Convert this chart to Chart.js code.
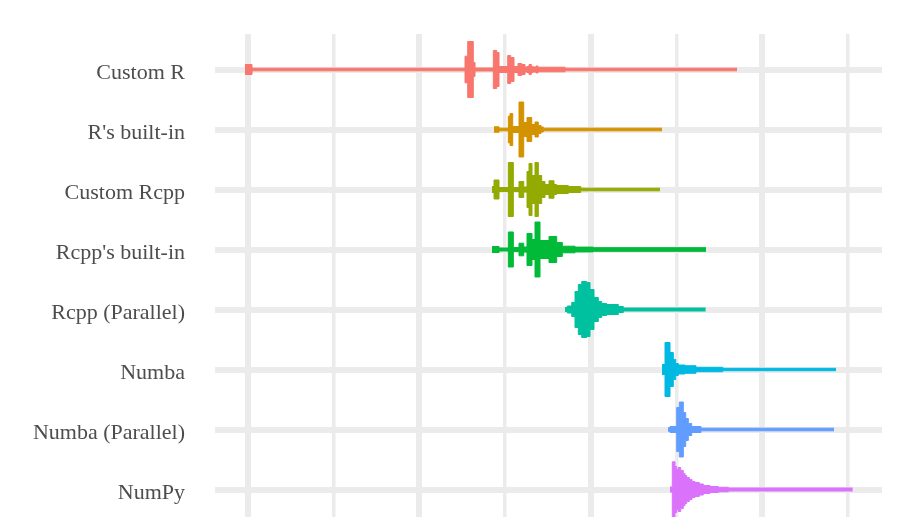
<!DOCTYPE html>
<html>
<head>
<meta charset="utf-8">
<script src="https://cdn.jsdelivr.net/npm/chart.js@4/dist/chart.umd.min.js"></script>
<style>
  html, body { margin: 0; padding: 0; background: #ffffff; overflow: hidden; }
  canvas { display: block; }
</style>
</head>
<body>
<canvas id="c" width="918" height="517" style="width:918px;height:517px"></canvas>
<script>
// Categories (top to bottom) and colours
const categories = ["Custom R", "R's built-in", "Custom Rcpp", "Rcpp's built-in", "Rcpp (Parallel)", "Numba", "Numba (Parallel)", "NumPy"];
const colors = ["#F8766D", "#D39200", "#93AA00", "#00BA38", "#00C19F", "#00B9E3", "#619CFF", "#DB72FB"];

// Violin outlines: x positions (value axis) and half-widths (category units)
const customR_x = [-0.0175, 0.0234, 1.2668, 1.2825, 1.3152, 1.3252, 1.4320, 1.4518, 1.4653, 1.5161, 1.5336, 1.5528, 1.5762, 1.5978, 1.6170, 1.6287, 1.6404, 1.6538, 1.6637, 1.6813, 1.6929, 1.8506, 2.8546];
const customR_w = [0.083, 0.022, 0.222, 0.467, 0.117, 0.025, 0.317, 0.283, 0.05, 0.233, 0.2, 0.05, 0.1, 0.083, 0.04, 0.05, 0.083, 0.05, 0.042, 0.058, 0.038, 0.022, 0.022];

const rBuiltin_x = [1.4361, 1.4653, 1.5196, 1.5295, 1.5452, 1.5820, 1.6095, 1.6287, 1.6562, 1.6754, 1.6947, 1.7105, 1.7239, 2.4168];
const rBuiltin_w = [0.045, 0.022, 0.222, 0.267, 0.05, 0.458, 0.117, 0.2, 0.083, 0.125, 0.067, 0.042, 0.022, 0.022];

const customRcpp_x = [1.4244, 1.4361, 1.4653, 1.5196, 1.5488, 1.5820, 1.6095, 1.6287, 1.6404, 1.6579, 1.6754, 1.6947, 1.7145, 1.7338, 1.7572, 1.7863, 1.8021, 1.8698, 1.9422, 2.4051];
const customRcpp_w = [0.05, 0.158, 0.033, 0.45, 0.033, 0.133, 0.042, 0.3, 0.433, 0.233, 0.45, 0.233, 0.133, 0.083, 0.145, 0.083, 0.067, 0.05, 0.022, 0.022];

const rcppBuiltin_x = [1.4244, 1.4653, 1.5196, 1.5488, 1.5820, 1.6095, 1.6287, 1.6579, 1.6754, 1.7046, 1.7572, 1.8021, 1.8348, 1.9089, 2.0158, 2.6737];
const rcppBuiltin_w = [0.05, 0.025, 0.292, 0.033, 0.105, 0.042, 0.267, 0.167, 0.458, 0.15, 0.217, 0.117, 0.055, 0.04, 0.03, 0.03];

const rcppPar_x = [1.8506, 1.8640, 1.8897, 1.9089, 1.9282, 1.9481, 1.9772, 1.9965, 2.0198, 2.0450, 2.0648, 2.0940, 2.1617, 2.1909, 2.6719];
const rcppPar_w = [0.033, 0.058, 0.117, 0.3, 0.417, 0.467, 0.45, 0.333, 0.2, 0.133, 0.1, 0.083, 0.05, 0.025, 0.025];

const numba_x = [2.4168, 2.4343, 2.4635, 2.4828, 2.4968, 2.5120, 2.5511, 2.6153, 2.7712, 3.4326];
const numba_w = [0.083, 0.45, 0.283, 0.167, 0.1, 0.075, 0.063, 0.037, 0.02, 0.02];

const numbaPar_x = [2.4518, 2.4635, 2.5026, 2.5178, 2.5412, 2.5552, 2.5704, 2.5902, 2.6445, 3.4209];
const numbaPar_w = [0.028, 0.05, 0.367, 0.458, 0.283, 0.183, 0.1, 0.05, 0.022, 0.022];

const numpy_x = [2.4635, 2.4769, 2.4927, 2.5026, 2.5120, 2.5260, 2.5412, 2.5511, 2.5610, 2.5762, 2.5919, 2.6095, 2.6346, 2.6579, 2.6970, 2.7455, 2.8039, 3.5301];
const numpy_w = [0.042, 0.462, 0.383, 0.333, 0.367, 0.317, 0.267, 0.233, 0.2, 0.167, 0.133, 0.117, 0.092, 0.067, 0.05, 0.038, 0.025, 0.025];

// Gridline tick values
const xMajorTicks = [0, 1, 2, 3];
const xMinorTicks = [0.5, 1.5, 2.5, 3.5];
const yTicks = [1, 2, 3, 4, 5, 6, 7, 8];

const violins = [
  [customR_x, customR_w], [rBuiltin_x, rBuiltin_w], [customRcpp_x, customRcpp_w],
  [rcppBuiltin_x, rcppBuiltin_w], [rcppPar_x, rcppPar_w], [numba_x, numba_w],
  [numbaPar_x, numbaPar_w], [numpy_x, numpy_w]
];

const datasets = [];
violins.forEach(([xs, ws], i) => {
  const c = categories.length - i;
  const base = {
    borderColor: colors[i], backgroundColor: colors[i], borderWidth: 1,
    pointRadius: 0, pointHoverRadius: 0, stepped: true, tension: 0
  };
  datasets.push(Object.assign({}, base, {
    label: categories[i] + ' upper', fill: false,
    data: xs.map((x, j) => ({ x: x, y: c + ws[j] }))
  }));
  datasets.push(Object.assign({}, base, {
    label: categories[i] + ' lower', fill: '-1',
    data: xs.map((x, j) => ({ x: x, y: c - ws[j] }))
  }));
});

const gridColor = '#EBEBEB';

new Chart(document.getElementById('c'), {
  type: 'line',
  data: { datasets: datasets },
  options: {
    responsive: false,
    maintainAspectRatio: false,
    devicePixelRatio: 1,
    animation: false,
    events: [],
    layout: { padding: { top: 34, right: 36, bottom: 0, left: 0 } },
    plugins: { legend: { display: false }, tooltip: { enabled: false } },
    scales: {
      x: {
        type: 'linear',
        min: -0.1927, max: 3.701,
        afterBuildTicks: (s) => { s.ticks = xMajorTicks.concat(xMinorTicks).sort((a, b) => a - b).map(v => ({ value: v })); },
        afterFit: (s) => { s.height = 0; s.paddingLeft = 0; s.paddingRight = 0; s.paddingTop = 0; s.paddingBottom = 0; },
        ticks: { display: false },
        border: { display: false },
        grid: {
          color: gridColor,
          drawTicks: false,
          lineWidth: (ctx) => (ctx.tick && xMajorTicks.includes(ctx.tick.value)) ? 6 : 3.5
        }
      },
      y: {
        type: 'linear',
        min: 0.5417, max: 8.5917,
        afterBuildTicks: (s) => { s.ticks = yTicks.map(v => ({ value: v })); },
        afterFit: (s) => { s.width = 215; s.paddingTop = 0; s.paddingBottom = 0; },
        ticks: {
          padding: 30,
          labelOffset: 4,
          color: '#4D4D4D',
          font: { family: "'Liberation Serif', 'Times New Roman', serif", size: 22 },
          callback: (v) => categories[categories.length - v]
        },
        border: { display: false },
        grid: { color: gridColor, drawTicks: false, lineWidth: 6 }
      }
    }
  }
});
</script>
</body>
</html>
